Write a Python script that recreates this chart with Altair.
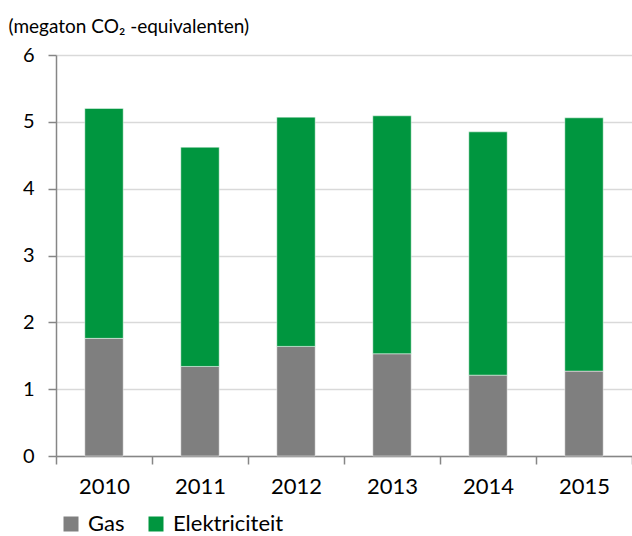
import altair as alt
import pandas as pd

# CO2 emissions per year, split by source (megaton CO2-equivalents)
years = ["2010", "2011", "2012", "2013", "2014", "2015"]
gas = [1.76, 1.34, 1.64, 1.53, 1.21, 1.27]
elektriciteit = [3.44, 3.28, 3.43, 3.56, 3.64, 3.79]

series = ["Gas", "Elektriciteit"]
colors = ["#7f7f7f", "#00963f"]

rows = []
for y, g, e in zip(years, gas, elektriciteit):
    rows.append({"jaar": y, "bron": "Gas", "waarde": g, "volgorde": 0})
    rows.append({"jaar": y, "bron": "Elektriciteit", "waarde": e, "volgorde": 1})
df = pd.DataFrame(rows)

font = "Lato"

chart = (
    alt.Chart(df)
    .mark_bar(
        width=alt.RelativeBandSize(0.4),
        stroke="#ffffff",
        strokeWidth=0.8,
        strokeOpacity=0.6,
    )
    .encode(
        x=alt.X(
            "jaar:N",
            sort=years,
            scale=alt.Scale(paddingInner=0, paddingOuter=0),
            axis=alt.Axis(
                title=None,
                labelAngle=0,
                tickBand="extent",
                tickSize=8,
                labelPadding=12,
                labelFontSize=22,
                labelFont=font,
                labelColor="#000000",
                domainColor="#868686",
                domainWidth=1.5,
                tickColor="#868686",
                tickWidth=1.5,
                grid=False,
            ),
        ),
        y=alt.Y(
            "waarde:Q",
            stack="zero",
            scale=alt.Scale(domain=[0, 6], nice=False),
            axis=alt.Axis(
                values=[0, 1, 2, 3, 4, 5, 6],
                title="(megaton CO₂ -equivalenten)",
                titleAngle=0,
                titleAlign="left",
                titleBaseline="alphabetic",
                titleX=-48,
                titleY=-23,
                titleFont=font,
                titleFontSize=19,
                titleFontWeight="normal",
                titleColor="#000000",
                tickSize=8,
                labelPadding=14,
                labelFontSize=20,
                labelFont=font,
                labelColor="#000000",
                domainColor="#868686",
                domainWidth=1.5,
                tickColor="#868686",
                tickWidth=1.5,
                gridColor="#d9d9d9",
                gridWidth=1.5,
            ),
        ),
        color=alt.Color(
            "bron:N",
            scale=alt.Scale(domain=series, range=colors),
            legend=alt.Legend(
                title=None,
                orient="none",
                legendX=4,
                legendY=458,
                direction="horizontal",
                symbolType="square",
                symbolSize=225,
                symbolStrokeWidth=0,
                symbolOpacity=1,
                labelFont=font,
                labelFontSize=22,
                labelColor="#000000",
                labelOffset=6,
                columnPadding=20,
            ),
        ),
        order=alt.Order("volgorde:Q"),
    )
    .properties(
        width=576,
        height=401,
        autosize=alt.AutoSizeParams(type="none"),
        padding={"left": 56, "top": 55, "right": 0, "bottom": 80},
    )
    .configure_view(stroke=None)
)

chart.save("out.html", embed_options={"renderer": "svg", "actions": False})
